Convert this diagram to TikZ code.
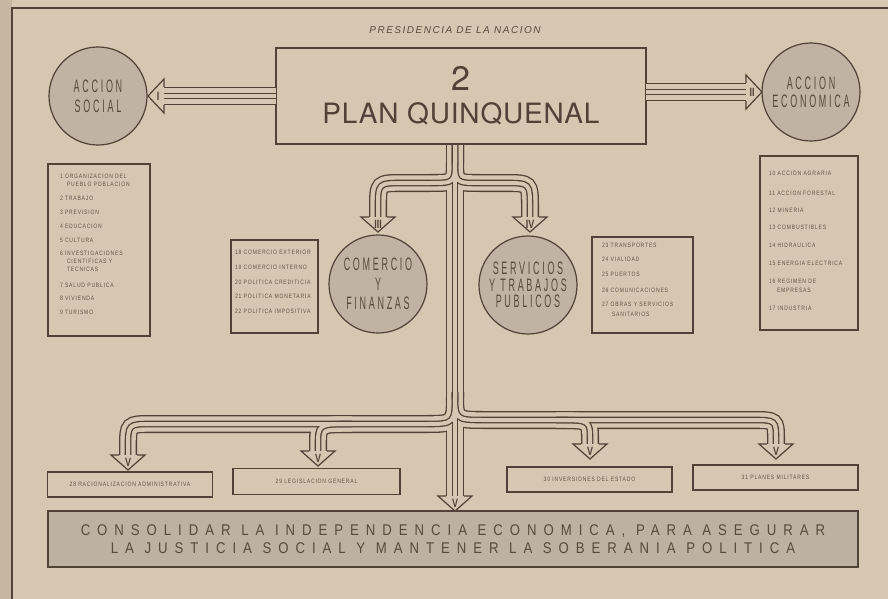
\documentclass[tikz,border=0pt]{standalone}
\usepackage{fontspec}
\setmainfont{Liberation Sans}
\newfontfamily\titlefont[LetterSpace=15]{Liberation Sans}
\newfontfamily\bigfont[LetterSpace=3]{TeX Gyre Heros}
\newfontfamily\circfont[FakeStretch=0.5,LetterSpace=15]{Liberation Sans}
\newfontfamily\listfont[FakeStretch=0.8,LetterSpace=13]{Liberation Sans}
\newfontfamily\mottofont[FakeStretch=0.85,LetterSpace=45]{Liberation Sans}
\newfontfamily\headfont[FakeStretch=0.75]{Liberation Sans}
\definecolor{paper}{RGB}{214,199,178}
\definecolor{paperdark}{RGB}{198,183,163}
\definecolor{ink}{RGB}{80,66,54}
\definecolor{disc}{RGB}{192,179,164}
\definecolor{band}{RGB}{188,177,163}
\definecolor{txt}{RGB}{88,74,62}
\definecolor{faint}{RGB}{96,82,70}
\tikzset{
  every node/.style={inner sep=0pt, outer sep=0pt},
  disc/.style={circle, fill=disc, draw=ink, line width=1.2pt, minimum size=98pt, text=txt, align=center},
  discfont/.style={font=\circfont\fontsize{18}{#1}\selectfont},
  listbox/.style={draw=ink, line width=1.6pt, rectangle},
  item/.style={anchor=west, text=faint, font=\listfont\fontsize{6.3}{6.5}\selectfont},
  citem/.style={anchor=center, text=faint, font=\listfont\fontsize{6.3}{6.5}\selectfont},
  headline/.style={draw=ink, line width=1.2pt, line join=miter},
  headlbl/.style={text=ink, font=\headfont\bfseries\fontsize{12}{12}\selectfont},
}
\newcommand\hdL[4]{%
  \fill[paper] (#1,#2) -- (#1+16,#2-17) -- (#1+16,#2+17) -- cycle;
  \draw[headline] (#1+16,#2-9) -- (#1+16,#2-17) -- (#1,#2) -- (#1+16,#2+17) -- (#1+16,#2+9);
  \node[headlbl] (#4) at (#1+10,#2) {#3};}
\newcommand\hdR[4]{%
  \fill[paper] (#1,#2) -- (#1-16,#2-17) -- (#1-16,#2+17) -- cycle;
  \draw[headline] (#1-16,#2-9) -- (#1-16,#2-17) -- (#1,#2) -- (#1-16,#2+17) -- (#1-16,#2+9);
  \node[headlbl] (#4) at (#1-10,#2) {#3};}
\newcommand\hdD[4]{%
  \fill[paper] (#1,#2) -- (#1-17,#2-15) -- (#1+17,#2-15) -- cycle;
  \draw[headline] (#1-9,#2-15) -- (#1-17,#2-15) -- (#1,#2) -- (#1+17,#2-15) -- (#1+9,#2-15);
  \node[headlbl] (#4) at (#1,#2-8) {#3};}
\def\pI{(276,96) -- (164,96)}
\def\pII{(646,92) -- (746,92)}
\def\pL{(455,144) -- (455,158) .. controls (455,183) .. (430,183) -- (403,183) .. controls (378,183) .. (378,208) -- (378,217)}
\def\pR{(455,144) -- (455,158) .. controls (455,183) .. (480,183) -- (505,183) .. controls (530,183) .. (530,208) -- (530,217)}
\def\pT{(455,144) -- (455,496)}
\def\pBL{(455,392) .. controls (455,424) .. (425,424) -- (152,424) .. controls (128,424) .. (128,448) -- (128,455)}
\def\pBLb{(352,424) .. controls (318,424) .. (318,446) -- (318,451)}
\def\pBR{(455,392) .. controls (455,420) .. (485,420) -- (752,420) .. controls (776,420) .. (776,440) -- (776,444)}
\def\pBRb{(556,420) .. controls (590,420) .. (590,440) -- (590,444)}
\begin{document}
\begin{tikzpicture}[x=1pt,y=-1pt]
\useasboundingbox (0,0) rectangle (888,599);
\fill[paper] (0,0) rectangle (888,599);
\fill[paperdark] (0,0) rectangle (12,599);
\draw[ink, line width=1.3pt] (12,599) -- (12,8) -- (888,8);

\node[font=\titlefont\itshape\fontsize{10}{12}\selectfont, text=txt] (title) at (455,30) {PRESIDENCIA DE LA NACION};

% main box
\node[draw=ink, line width=1.4pt, minimum width=370pt, minimum height=96pt] (main) at (461,96) {};
\node[font=\bigfont\fontsize{34}{36}\selectfont, text=ink] (two) at (461,78) {2};
\node[font=\bigfont\fontsize{28}{30}\selectfont, text=ink] (plan) at (461,114) {PLAN QUINQUENAL};

% pipes
\foreach \w/\c in {18/ink,15.4/paper,6.6/ink,4/paper}{
  \foreach \p in {\pI,\pII,\pL,\pR,\pT,\pBL,\pBLb,\pBR,\pBRb}{
    \draw[line width=\w pt, draw=\c] \p;
  }
}
\draw[ink, line width=1.4pt] (main.south west) -- (main.south east);

% circles
\node[disc, discfont=20] (soc) at (98,96) {ACCION\\SOCIAL};
\node[disc, discfont=18] (eco) at (811,92) {ACCION\\ECONOMICA};
\node[disc, discfont=19.5] (com) at (378,284) {COMERCIO\\Y\\FINANZAS};
\node[disc, discfont=16.5] (ser) at (528,285) {SERVICIOS\\Y TRABAJOS\\PUBLICOS};

% heads
\hdL{148}{96}{I}{hI}
\hdR{762}{92}{II}{hII}
\hdD{378}{232}{III}{hIII}
\hdD{530}{232}{IV}{hIV}
\hdD{128}{470}{V}{hVa}
\hdD{318}{466}{V}{hVb}
\hdD{590}{459}{V}{hVc}
\hdD{776}{459}{V}{hVd}
\hdD{455}{511}{V}{hVt}

% left list
\node[listbox, minimum width=102pt, minimum height=172pt] (lsoc) at (99,250) {};
\node[item] (s1) at (60,176) {1 ORGANIZACION DEL};
\node[item] (s1b) at (67,184) {PUEBLO POBLACION};
\node[item] (s2) at (60,198) {2 TRABAJO};
\node[item] (s3) at (60,212) {3 PREVISION};
\node[item] (s4) at (60,226) {4 EDUCACION};
\node[item] (s5) at (60,240) {5 CULTURA};
\node[item] (s6) at (60,253) {6 INVESTIGACIONES};
\node[item] (s6b) at (67,261) {CIENTIFICAS Y};
\node[item] (s6c) at (67,269) {TECNICAS};
\node[item] (s7) at (60,285) {7 SALUD PUBLICA};
\node[item] (s8) at (60,298) {8 VIVIENDA};
\node[item] (s9) at (60,312) {9 TURISMO};

% right list
\node[listbox, minimum width=98pt, minimum height=174pt] (leco) at (809,243) {};
\node[item] (e10) at (769,173) {10 ACCION AGRARIA};
\node[item] (e11) at (769,193) {11 ACCION FORESTAL};
\node[item] (e12) at (769,210) {12 MINERIA};
\node[item] (e13) at (769,227) {13 COMBUSTIBLES};
\node[item] (e14) at (769,245) {14 HIDRAULICA};
\node[item] (e15) at (769,263) {15 ENERGIA ELECTRICA};
\node[item] (e16) at (769,281) {16 REGIMEN DE};
\node[item] (e16b) at (777,290) {EMPRESAS};
\node[item] (e17) at (769,308) {17 INDUSTRIA};

% comercio list
\node[listbox, minimum width=87pt, minimum height=93pt] (lcom) at (274.5,286.5) {};
\node[item] (c18) at (235,252) {18 COMERCIO EXTERIOR};
\node[item] (c19) at (235,267) {19 COMERCIO INTERNO};
\node[item] (c20) at (235,282) {20 POLITICA CREDITICIA};
\node[item] (c21) at (235,296) {21 POLITICA MONETARIA};
\node[item] (c22) at (235,311) {22 POLITICA IMPOSITIVA};

% servicios list
\node[listbox, minimum width=101pt, minimum height=96pt] (lser) at (642.5,285) {};
\node[item] (v23) at (602,245) {23 TRANSPORTES};
\node[item] (v24) at (602,259) {24 VIALIDAD};
\node[item] (v25) at (602,274) {25 PUERTOS};
\node[item] (v26) at (602,290) {26 COMUNICACIONES};
\node[item] (v27) at (602,304) {27 OBRAS Y SERVICIOS};
\node[item] (v27b) at (612,314) {SANITARIOS};

% bottom boxes
\node[listbox, minimum width=165pt, minimum height=25pt] (b28) at (130,484.5) {};
\node[citem] (t28) at (b28) {28 RACIONALIZACION ADMINISTRATIVA};
\node[listbox, minimum width=167pt, minimum height=26pt] (b29) at (316.5,481.5) {};
\node[citem] (t29) at (b29) {29 LEGISLACION GENERAL};
\node[listbox, minimum width=165pt, minimum height=25pt] (b30) at (589.5,479.5) {};
\node[citem] (t30) at (b30) {30 INVERSIONES DEL ESTADO};
\node[listbox, minimum width=165pt, minimum height=25pt] (b31) at (775.5,477.5) {};
\node[citem] (t31) at (b31) {31 PLANES MILITARES};

% motto
\node[draw=ink, fill=band, line width=1.5pt, minimum width=810pt, minimum height=56pt] (motto) at (453,539) {};
\node[font=\mottofont\fontsize{15.5}{18.5}\selectfont, text=txt, align=center] (mtxt) at (453,539) {CONSOLIDAR LA INDEPENDENCIA ECONOMICA, PARA ASEGURAR\\LA JUSTICIA SOCIAL Y MANTENER LA SOBERANIA POLITICA};
\end{tikzpicture}
\end{document}
